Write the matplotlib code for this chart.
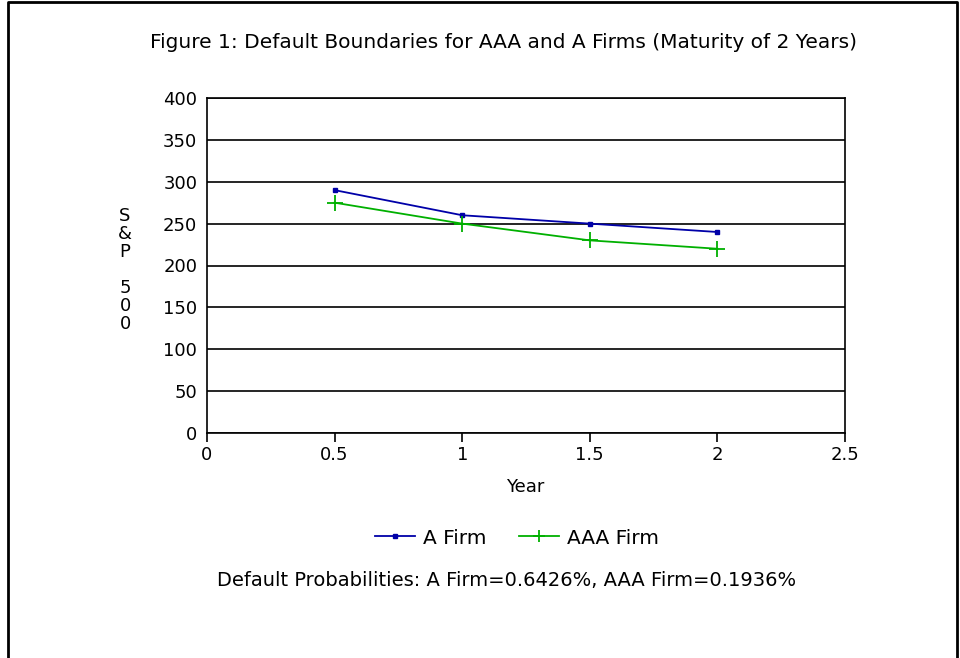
import matplotlib.pyplot as plt
from matplotlib.lines import Line2D

years = [0.5, 1.0, 1.5, 2.0]
a_firm = [290, 260, 250, 240]
aaa_firm = [275, 250, 230, 220]
x_ticks = [0, 0.5, 1, 1.5, 2, 2.5]
x_tick_labels = ['0', '0.5', '1', '1.5', '2', '2.5']
y_ticks = list(range(0, 401, 50))

plt.rcParams['font.family'] = ['DejaVu Sans']
fs = 13

fig = plt.figure(figsize=(9.6, 6.58), dpi=100)
ax = fig.add_axes([207 / 960, 1 - 433 / 658, (845 - 207) / 960, (433 - 98) / 658])

blue = '#0000a8'
green = '#00b000'
ax.plot(years, a_firm, color=blue, lw=1.3, marker='s', ms=3.5, label='A Firm')
ax.plot(years, aaa_firm, color=green, lw=1.3, marker='+', ms=12, mew=1.3, label='AAA Firm')

ax.set_xlim(0, 2.5)
ax.set_ylim(0, 400)
ax.set_xticks(x_ticks)
ax.set_xticklabels(x_tick_labels)
ax.set_yticks(y_ticks)
ax.tick_params(axis='x', labelsize=fs, length=6.5, width=1.2, pad=3)
ax.tick_params(axis='y', labelsize=fs, length=0, pad=7)
for y in y_ticks:
    ax.axhline(y, color='black', lw=1.2, zorder=0)
for s in ax.spines.values():
    s.set_linewidth(1.2)

fig.text(525 / 960, 1 - 487 / 658, 'Year', fontsize=fs, ha='center', va='center')
fig.text(125 / 960, 1 - 270 / 658, 'S\n&\nP\n\n5\n0\n0', fontsize=fs,
         ha='center', va='center', linespacing=1.0)

fig.text(503 / 960, 1 - 43 / 658,
         'Figure 1: Default Boundaries for AAA and A Firms (Maturity of 2 Years)',
         fontsize=14.5, ha='center', va='center')

leg = ax.legend(loc='center', bbox_to_anchor=(517 / 960, 1 - 538 / 658),
                bbox_transform=fig.transFigure, ncol=2, frameon=False,
                fontsize=14.5, handlelength=2.0, handletextpad=0.4, columnspacing=1.6)
leg.legend_handles[1].set_markersize(9)

fig.text(507 / 960, 1 - 581 / 658,
         'Default Probabilities: A Firm=0.6426%, AAA Firm=0.1936%',
         fontsize=14, ha='center', va='center')

# outer frame (left, top, right edges)
fig.add_artist(Line2D([8 / 960, 8 / 960, 957 / 960, 957 / 960],
                      [0, 1 - 2 / 658, 1 - 2 / 658, 0],
                      transform=fig.transFigure, color='black', lw=2))

fig.savefig('out.png', dpi=100)
